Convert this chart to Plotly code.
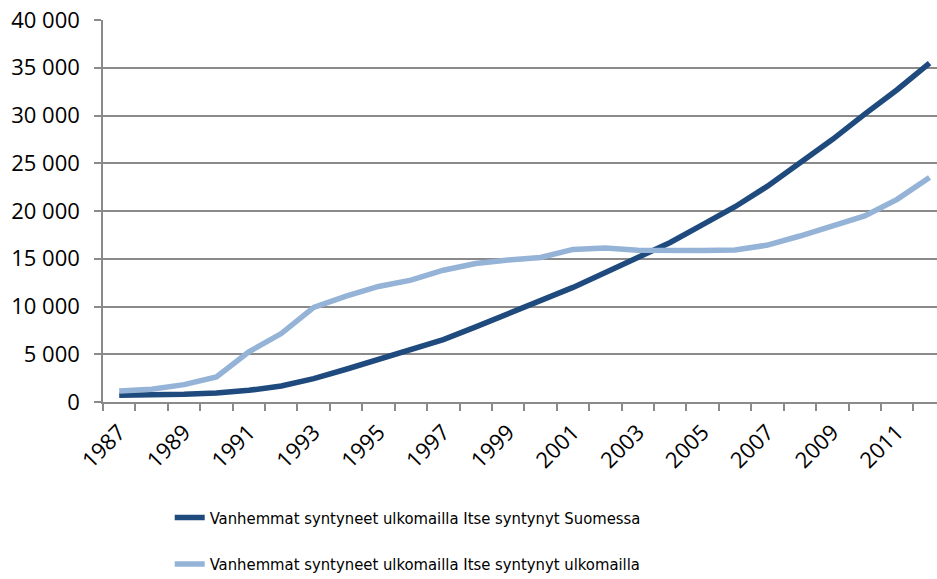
import plotly.graph_objects as go

years = list(range(1987, 2013))
born_finland = [700, 700, 800, 940, 1220, 1680, 2450, 3430, 4450, 5420, 6540, 7870, 9270,
                10560, 12000, 13570, 15200, 16700, 18570, 20450, 22600, 25000, 27480, 30140,
                32700, 35490]
born_abroad = [1150, 1330, 1820, 2620, 5250, 7170, 9900, 11080, 12100, 12760, 13800, 14500,
               14860, 15140, 15980, 16120, 15880, 15840, 15870, 15910, 16430, 17380, 18430,
               19480, 21220, 23500]
series_names = ["Vanhemmat syntyneet ulkomailla Itse syntynyt Suomessa",
                "Vanhemmat syntyneet ulkomailla Itse syntynyt ulkomailla"]
y_ticks = list(range(0, 40001, 5000))
x_label_years = years[::2]

grid = "#8a8a8a"
fig = go.Figure()
fig.add_trace(go.Scatter(x=years, y=born_finland, mode="lines", name=series_names[0],
                         legendgroup="a",
                         line=dict(color="#1f4a7e", width=5.5)))
fig.add_trace(go.Scatter(x=years, y=born_abroad, mode="lines", name=series_names[1],
                         legendgroup="b",
                         line=dict(color="#95b3d7", width=5.5)))

fig.update_layout(
    width=937, height=579,
    margin=dict(l=103, r=0, t=20, b=177),
    paper_bgcolor="white", plot_bgcolor="white",
    separators=", ",
    font=dict(family="Open Sans", size=22, color="#000000"),
    showlegend=True,
    legend=dict(orientation="v", xref="paper", x=0.08, yref="container", y=0.136,
                xanchor="left", yanchor="top",
                font=dict(family="DejaVu Sans Condensed, Roboto, sans-serif", size=16.5,
                          color="#000000"),
                tracegroupgap=22, traceorder="grouped", bgcolor="rgba(0,0,0,0)"),
    xaxis=dict(range=[1986.5, 2012.23], tickmode="array", tickvals=x_label_years,
               ticktext=[str(v) for v in x_label_years], tickangle=-45,
               ticks="", showgrid=False, zeroline=False,
               showline=True, linecolor=grid, linewidth=1.5,
               ticklabelstandoff=7, automargin=False,
               tickfont=dict(family="Open Sans", size=22),
               minor=dict(ticks="outside", ticklen=7, tickcolor=grid, tickwidth=1.5,
                          tick0=1986.5, dtick=1, showgrid=False)),
    yaxis=dict(range=[0, 40000], tickmode="array", tickvals=y_ticks, tickformat=",d",
               ticks="outside", ticklen=7, tickcolor=grid, tickwidth=1.5,
               showgrid=True, gridcolor=grid, gridwidth=1.5, zeroline=False,
               showline=True, linecolor=grid, linewidth=1.5,
               ticklabelstandoff=10, automargin=False,
               tickfont=dict(family="Open Sans", size=22)),
)
fig.write_html("out.html", config={"displayModeBar": False},
               post_script="document.body.style.margin='0';document.body.style.overflow='hidden';")
